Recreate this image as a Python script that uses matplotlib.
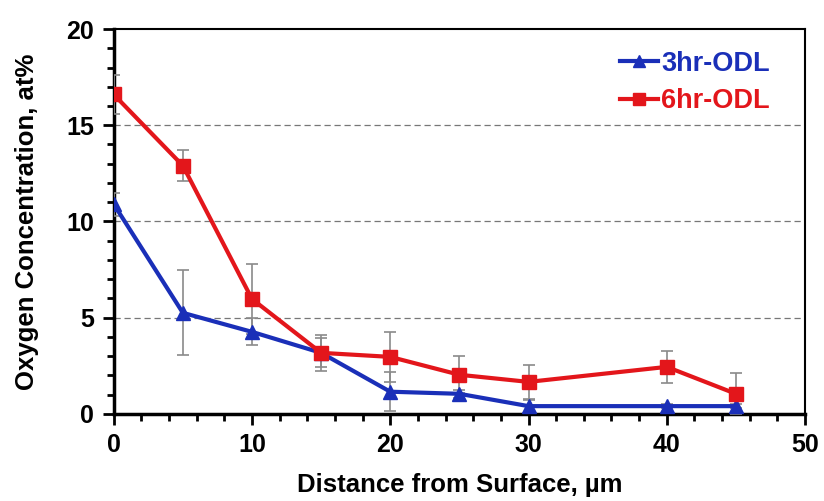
import numpy as np
import matplotlib.pyplot as plt
from matplotlib.ticker import MultipleLocator
from matplotlib.lines import Line2D

plt.rcParams['font.family'] = ['Liberation Sans', 'DejaVu Sans']
plt.rcParams['font.weight'] = 'bold'

# donnees
distance = [0, 5, 10, 15, 20, 25, 30, 40, 45]

odl_3hr = [10.9, 5.25, 4.26, 3.17, 1.15, 1.04, 0.4, 0.4, 0.4]
err_3hr = [0.6, 2.2, 0.7, 0.75, 1.0, 0.2, 0.3, 0.1, 0.1]

odl_6hr = [16.6, 12.9, 5.97, 3.17, 2.96, 2.03, 1.66, 2.44, 1.04]
err_6hr = [1.0, 0.8, 1.8, 0.95, 1.3, 0.95, 0.9, 0.83, 1.1]

bleu = '#1a2fb8'
rouge = '#e3161b'

fig = plt.figure(figsize=(8.24, 5.01), dpi=100)
ax = fig.add_axes([0.138, 0.174, 0.839, 0.768])

ax.errorbar(distance, odl_3hr, yerr=err_3hr, color=bleu, marker='^', ms=10,
            lw=3, ecolor='#8a8a8a', elinewidth=1.2, capsize=4, capthick=1.2,
            zorder=3)
ax.errorbar(distance, odl_6hr, yerr=err_6hr, color=rouge, marker='s', ms=10,
            lw=3, ecolor='#8a8a8a', elinewidth=1.2, capsize=4, capthick=1.2,
            zorder=3)

ax.set_xlim(0, 50)
ax.set_ylim(0, 20)
ax.xaxis.set_major_locator(MultipleLocator(10))
ax.xaxis.set_minor_locator(MultipleLocator(2))
ax.yaxis.set_major_locator(MultipleLocator(5))
ax.yaxis.set_minor_locator(MultipleLocator(1))
ax.tick_params(which='major', length=8, width=2, labelsize=18, pad=6)
ax.tick_params(which='minor', length=5, width=2)
for s in ax.spines.values():
    s.set_linewidth(1.5)
ax.spines['left'].set_linewidth(2.5)
ax.spines['bottom'].set_linewidth(2.5)

for yv in [5, 10, 15]:
    ax.axhline(yv, color='#777777', ls=(0, (5, 3)), lw=0.9, zorder=1)

ax.set_xlabel('Distance from Surface, µm', fontsize=18.5, fontweight='bold', labelpad=11)
ax.set_ylabel('Oxygen Concentration, at%', fontsize=18.5, fontweight='bold', labelpad=20)

poignees = [Line2D([], [], color=bleu, marker='^', ms=9, lw=3),
            Line2D([], [], color=rouge, marker='s', ms=9, lw=3)]
leg = ax.legend(poignees, ['3hr-ODL', '6hr-ODL'], loc='upper right', frameon=False,
                fontsize=19.5, handlelength=1.4, handletextpad=0.1, labelspacing=0.42,
                borderaxespad=0.4, bbox_to_anchor=(0.98, 1.0))
for txt, c in zip(leg.get_texts(), [bleu, rouge]):
    txt.set_color(c)
    txt.set_fontweight('bold')

fig.savefig('out.png', dpi=100)
